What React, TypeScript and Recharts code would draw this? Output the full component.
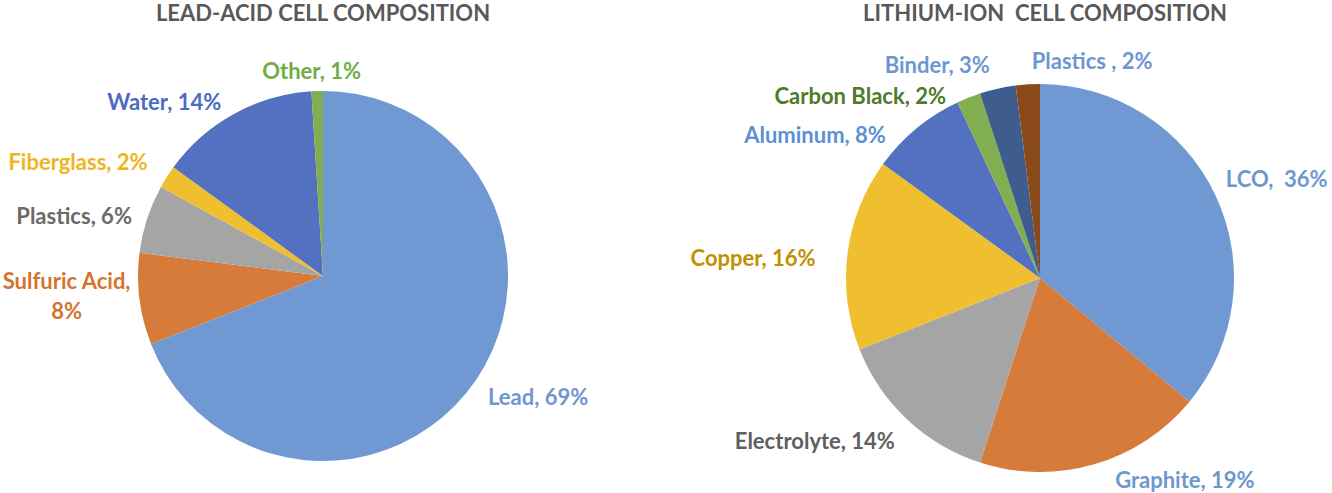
import { PieChart, Pie, Cell } from 'recharts';

// lead-acid cell
const leadNames = ['Lead', 'Sulfuric Acid', 'Plastics', 'Fiberglass', 'Water', 'Other'];
const leadValues = [69, 8, 6, 2, 14, 1];
const leadLabels = ['Lead, 69%', 'Sulfuric Acid,\n8%', 'Plastics, 6%', 'Fiberglass, 2%', 'Water, 14%', 'Other, 1%'];

// lithium-ion cell
const liNames = ['LCO', 'Graphite', 'Electrolyte', 'Copper', 'Aluminum', 'Carbon Black', 'Binder', 'Plastics'];
const liValues = [36, 19, 14, 16, 8, 2, 3, 2];
const liLabels = ['LCO,  36%', 'Graphite, 19%', 'Electrolyte, 14%', 'Copper, 16%', 'Aluminum, 8%', 'Carbon Black, 2%', 'Binder, 3%', 'Plastics , 2%'];

const leadFill = ['#7099d3', '#d67b3a', '#a5a5a5', '#f0bf30', '#5470c0', '#80ae50'];
const leadText = ['#6e97d1', '#d5742e', '#6a6a6a', '#f0b41e', '#4a6cc4', '#70ad47'];
const liFill = ['#7099d3', '#d67b3a', '#a5a5a5', '#f0bf30', '#5470c0', '#80ae50', '#3e5d8e', '#8b4a1c'];
const liText = ['#6e97d1', '#6e97d1', '#5f5f5f', '#bf9000', '#5d8fd6', '#4e7a2a', '#6e97d1', '#6e97d1'];

// label nudges: [dx, dy, anchor override]
const leadNudge: [number, number, string?][] = [
  [-3, 6], [-55, -6, 'middle'], [2, 2], [-4, -6], [-4, 3], [-5, -3, 'middle'],
];
const liNudge: [number, number, string?][] = [
  [-6, -10], [16, -3], [0, 7], [-14, 6], [-19, 19], [-16, 14], [-4, -7], [5, -6, 'start'],
];

const leadData = leadNames.map((name, i) => ({ name, value: leadValues[i] }));
const liData = liNames.map((name, i) => ({ name, value: liValues[i] }));

const RAD = Math.PI / 180;
const FONT = 'Lato, "Open Sans", sans-serif';

function makeLabel(texts: string[], colors: string[], nudge: [number, number, string?][]) {
  return (props: any) => {
    const { cx, cy, midAngle, outerRadius, index } = props;
    const r = outerRadius + 18;
    const x = cx + r * Math.cos(-midAngle * RAD);
    const y = cy + r * Math.sin(-midAngle * RAD);
    const [dx, dy, anchor] = nudge[index];
    const lines = texts[index].split('\n');
    const ta = anchor || (x < cx ? 'end' : 'start');
    const top = y + dy - ((lines.length - 1) * 30) / 2;
    return (
      <text
        x={x + dx}
        y={top}
        fill={colors[index]}
        textAnchor={ta}
        dominantBaseline="central"
        style={{ fontFamily: FONT, fontSize: 22, fontWeight: 700, whiteSpace: 'pre' }}
      >
        {lines.map((l, i) => (
          <tspan key={i} x={x + dx} dy={i === 0 ? 0 : 30}>{l}</tspan>
        ))}
      </text>
    );
  };
}

const titleStyle: React.CSSProperties = {
  position: 'absolute',
  top: 0,
  fontFamily: FONT,
  fontSize: 22,
  fontWeight: 700,
  color: '#595959',
  textAlign: 'center',
  width: 500,
  lineHeight: '26px',
  whiteSpace: 'pre',
};

export default function App() {
  return (
    <div style={{ position: 'absolute', left: 0, top: 0, width: 1332, height: 493, background: '#fff' }}>
      <div style={{ ...titleStyle, left: 323 - 250 }}>LEAD-ACID CELL COMPOSITION</div>
      <div style={{ ...titleStyle, left: 1045 - 250 }}>LITHIUM-ION  CELL COMPOSITION</div>
      <PieChart width={1332} height={493} margin={{ top: 0, right: 0, bottom: 0, left: 0 }}>
        <Pie
          data={leadData}
          dataKey="value"
          nameKey="name"
          cx={323}
          cy={276}
          outerRadius={185}
          startAngle={90}
          endAngle={-270}
          stroke="none"
          labelLine={false}
          label={makeLabel(leadLabels, leadText, leadNudge)}
          isAnimationActive={false}
        >
          {leadData.map((d, i) => (
            <Cell key={d.name} fill={leadFill[i]} />
          ))}
        </Pie>
        <Pie
          data={liData}
          dataKey="value"
          nameKey="name"
          cx={1040}
          cy={278}
          outerRadius={194}
          startAngle={90}
          endAngle={-270}
          stroke="none"
          labelLine={false}
          label={makeLabel(liLabels, liText, liNudge)}
          isAnimationActive={false}
        >
          {liData.map((d, i) => (
            <Cell key={d.name + i} fill={liFill[i]} />
          ))}
        </Pie>
      </PieChart>
    </div>
  );
}
